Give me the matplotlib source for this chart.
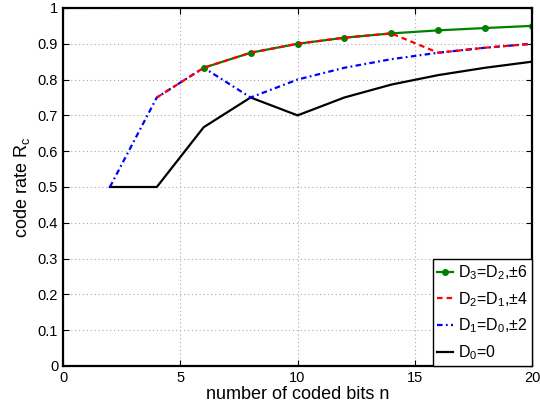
import matplotlib
matplotlib.use("Agg")
import matplotlib.pyplot as plt

plt.rcParams["font.family"] = ["Liberation Sans", "DejaVu Sans"]
plt.rcParams["mathtext.fontset"] = "custom"
plt.rcParams["mathtext.rm"] = "Liberation Sans"
plt.rcParams["mathtext.it"] = "Liberation Sans:italic"

n = [2, 4, 6, 8, 10, 12, 14, 16, 18, 20]
rate_d0 = [0.5, 0.5, 0.667, 0.75, 0.7, 0.75, 0.786, 0.8125, 0.833, 0.85]
rate_d1 = [0.5, 0.75, 0.833, 0.75, 0.8, 0.833, 0.857, 0.875, 0.889, 0.9]
n_d2 = [4, 6, 8, 10, 12, 14, 16, 18, 20]
rate_d2 = [0.75, 0.833, 0.875, 0.9, 0.917, 0.929, 0.875, 0.889, 0.9]
n_d3 = [6, 8, 10, 12, 14, 16, 18, 20]
rate_d3 = [0.833, 0.875, 0.9, 0.917, 0.929, 0.9375, 0.944, 0.95]

fig = plt.figure(figsize=(5.4, 4.05), dpi=100)
ax = fig.add_axes([0.1167, 0.0963, 0.8685, 0.8840])

l0, = ax.plot(n, rate_d0, color="black", lw=1.6, label=r"D$_0$=0")
l1, = ax.plot(n, rate_d1, color="blue", lw=1.6, dashes=(2.5, 1.5, 0.8, 1.5),
              label=r"D$_1$=D$_0$,±2")
l3, = ax.plot(n_d3, rate_d3, color="green", lw=1.6, marker="o", ms=4,
              label=r"D$_3$=D$_2$,±6")
l2, = ax.plot(n_d2, rate_d2, color="red", lw=1.6, dashes=(2.5, 1.8),
              label=r"D$_2$=D$_1$,±4")

ax.set_xlim(0, 20)
ax.set_ylim(0, 1)
ax.set_xticks([0, 5, 10, 15, 20])
ax.set_yticks([0, 0.1, 0.2, 0.3, 0.4, 0.5, 0.6, 0.7, 0.8, 0.9, 1])
ax.set_yticklabels(["0", "0.1", "0.2", "0.3", "0.4", "0.5", "0.6", "0.7", "0.8", "0.9", "1"])
ax.grid(True, color="#aaaaaa", ls=(0, (1, 2.5)), lw=0.8)
ax.tick_params(direction="in", length=4, labelsize=10.5, top=True, right=True)
for s in ax.spines.values():
    s.set_linewidth(1.6)

ax.set_xlabel("number of coded bits n", fontsize=13, labelpad=1)
ax.set_ylabel(r"code rate R$_\mathrm{c}$", fontsize=13, labelpad=4)

leg = ax.legend(handles=[l3, l2, l1, l0], loc="lower right", fontsize=11.5,
                fancybox=False, framealpha=1, edgecolor="black",
                borderaxespad=0, handlelength=1.0, handletextpad=0.3,
                labelspacing=0.5, borderpad=0.25)
leg.get_frame().set_linewidth(1.0)

fig.savefig("out.png", dpi=100)
